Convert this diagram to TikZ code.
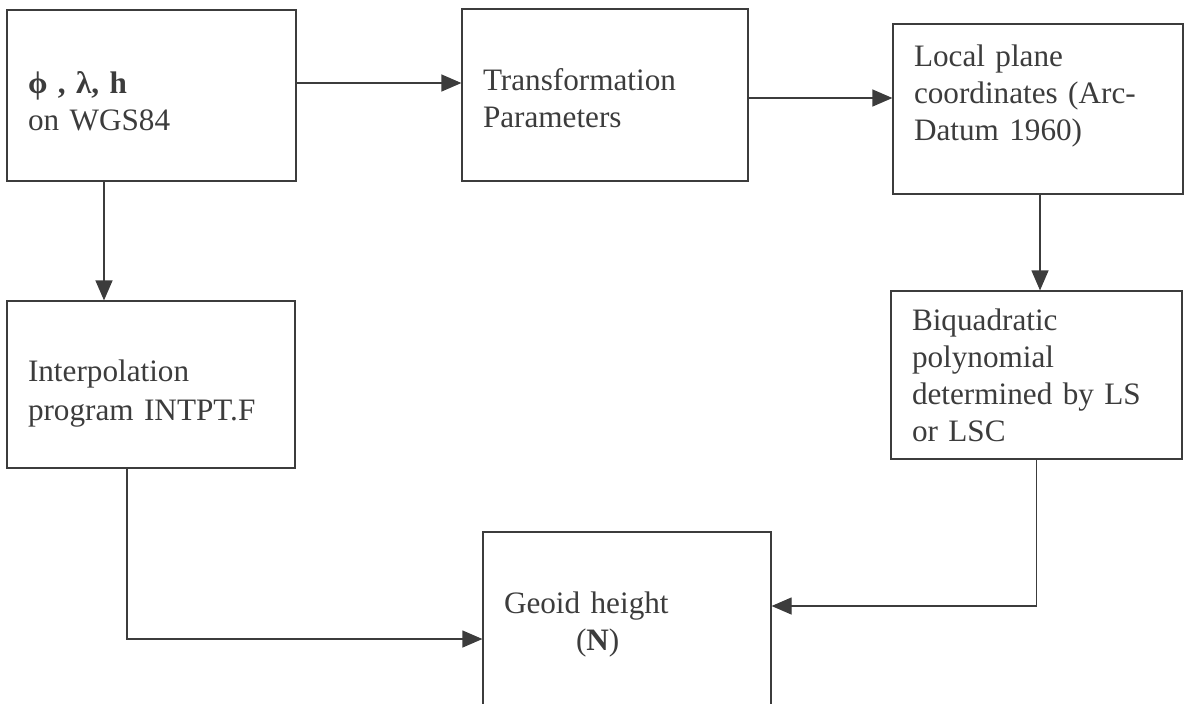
\documentclass[tikz,border=0pt]{standalone}
\usepackage{fontspec}
\setmainfont{Liberation Serif}
\usetikzlibrary{arrows.meta}
\definecolor{ink}{HTML}{3C3C3C}
\tikzset{
  stage/.style={draw=ink, line width=0.6pt, align=left, inner xsep=10.5pt,
    text=ink, font=\fontsize{15.6}{18.5}\selectfont},
  flow/.style={draw=ink, line width=0.6pt, -{Triangle[length=10pt,width=8.5pt]}}
}

\begin{document}
\begin{tikzpicture}[x=0.5pt, y=-0.5pt]
\useasboundingbox (0,0) rectangle (1189,703);

\node [stage, text width=123.5pt, minimum height=85.5pt] (wgs)    at ( 151.5,  95.5)
    {\rule{0pt}{16.7pt}\textbf{ϕ , λ, h}\\ on WGS84};
\node [stage, text width=122pt,   minimum height=86pt]   (param)  at ( 605,    95)
    {\rule{0pt}{13.7pt}Transformation\\ Parameters};
\node [stage, text width=124pt,   minimum height=85pt]   (local)  at (1038,   109)
    {Local plane\\ coordinates (Arc-\\ Datum 1960)\\[-2.5pt]\mbox{}};
\node [stage, text width=123pt,   minimum height=83.5pt] (interp) at ( 151,   384.5)
    {\rule{0pt}{19.7pt}Interpolation\\[1pt] program INTPT.F};
\node [stage, text width=124.5pt, minimum height=84pt]   (biquad) at (1036.5, 375)
    {Biquadratic\\ polynomial\\ determined by LS\\ or LSC};
\node [stage, text width=123pt,   minimum height=92.5pt] (geoid)  at ( 627,   624.5)
    {Geoid height\\ \hspace*{36pt}(\textbf{N})};

\draw [flow] ([yshift=6.25pt]wgs.east) -- ([yshift=6.25pt]wgs.east -| param.west);
\draw [flow] ([yshift=-1.5pt]param.east) -- ([yshift=-1.5pt]param.east -| local.west);
\draw [flow] ([xshift=-23.75pt]wgs.south) -- ([xshift=-23.75pt]wgs.south |- interp.north);
\draw [flow] ([xshift=1pt]local.south) -- ([xshift=1pt]local.south |- biquad.north);
\draw [flow] ([xshift=-12pt]interp.south) |- ([yshift=-7.25pt]geoid.west);
\draw [flow] (biquad.south) |- ([yshift=9.25pt]geoid.east);
\end{tikzpicture}
\end{document}
